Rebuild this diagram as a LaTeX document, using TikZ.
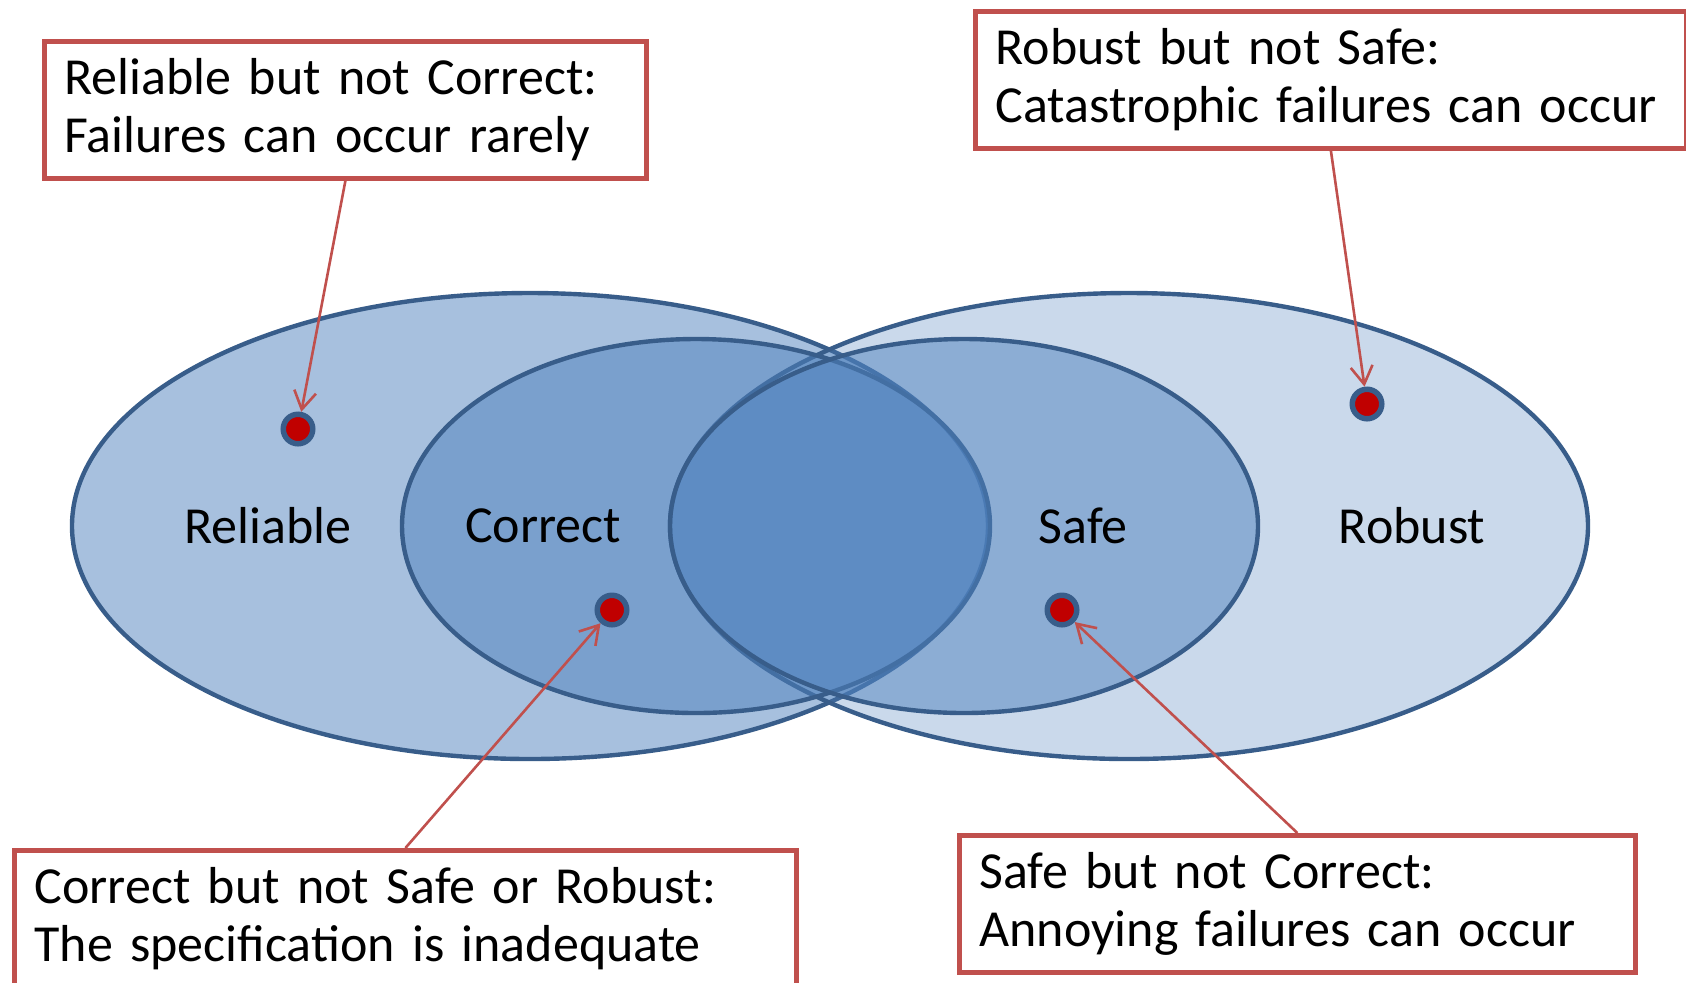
\documentclass[tikz,border=0pt]{standalone}
\usepackage{fontspec}
\setmainfont{Carlito}
\usetikzlibrary{arrows.meta}
\definecolor{vennfill}{RGB}{79,129,189}
\definecolor{vennline}{RGB}{56,93,138}
\definecolor{noteline}{RGB}{192,80,77}
\definecolor{dotred}{RGB}{192,0,0}
\tikzset{
  venn/.style={draw=vennline, line width=2.2pt, fill=vennfill},
  setlabel/.style={font=\fontsize{26}{29}\selectfont, inner sep=0pt},
  notebox/.style={draw=noteline, line width=2.4pt, fill=white, anchor=north west, align=left,
    inner xsep=10pt, minimum height=68.5pt, font=\fontsize{26}{29}\selectfont},
  pin/.style={circle, draw=vennline, line width=2.75pt, fill=dotred, minimum size=14.75pt, inner sep=0pt},
  pointer/.style={draw=noteline, line width=1.3pt, -{Straight Barb[length=9pt,width=11pt]}},
}
\begin{document}
\begin{tikzpicture}[x=0.5pt,y=0.5pt,yscale=-1,xscale=1]
\useasboundingbox (0,0) rectangle (1686,982);

% the four sets
\draw [venn, fill opacity=.5] (530,526) ellipse (458 and 233);
\draw [venn, fill opacity=.3] (1129,526) ellipse (459 and 233);
\draw [venn, fill opacity=.5] (696,526) ellipse (294 and 187);
\draw [venn, fill opacity=.5] (964,526) ellipse (294 and 187);

% set names
\node [setlabel] (reliable) at (268,526) {Reliable};
\node [setlabel] (correct) at (543,526) {Correct};
\node [setlabel] (safe) at (1083,526) {Safe};
\node [setlabel] (robust) at (1412,526) {Robust};

% sample points
\node [pin] (dotRel) at (298,429) {};
\node [pin] (dotCor) at (612,610) {};
\node [pin] (dotSafe) at (1062,610) {};
\node [pin] (dotRob) at (1367,404) {};

% notes
\node [notebox, text width=281pt] (noteRel) at (42,39) {Reliable but not Correct:\\Failures can occur rarely};
\node [notebox, text width=335.5pt] (noteRob) at (973,9) {Robust but not Safe:\\Catastrophic failures can occur};
\node [notebox, text width=371pt] (noteCor) at (12,848) {Correct but not Safe or Robust:\\The specification is inadequate};
\node [notebox, text width=318pt] (noteSafe) at (957,833) {Safe but not Correct:\\Annoying failures can occur};

% pointers
\draw [pointer] (noteRel.south) -- (dotRel);
\draw [pointer] (noteRob.south) -- (dotRob);
\draw [pointer] (noteCor.north) -- (dotCor);
\draw [pointer] (noteSafe.north) -- (dotSafe);

\end{tikzpicture}
\end{document}
